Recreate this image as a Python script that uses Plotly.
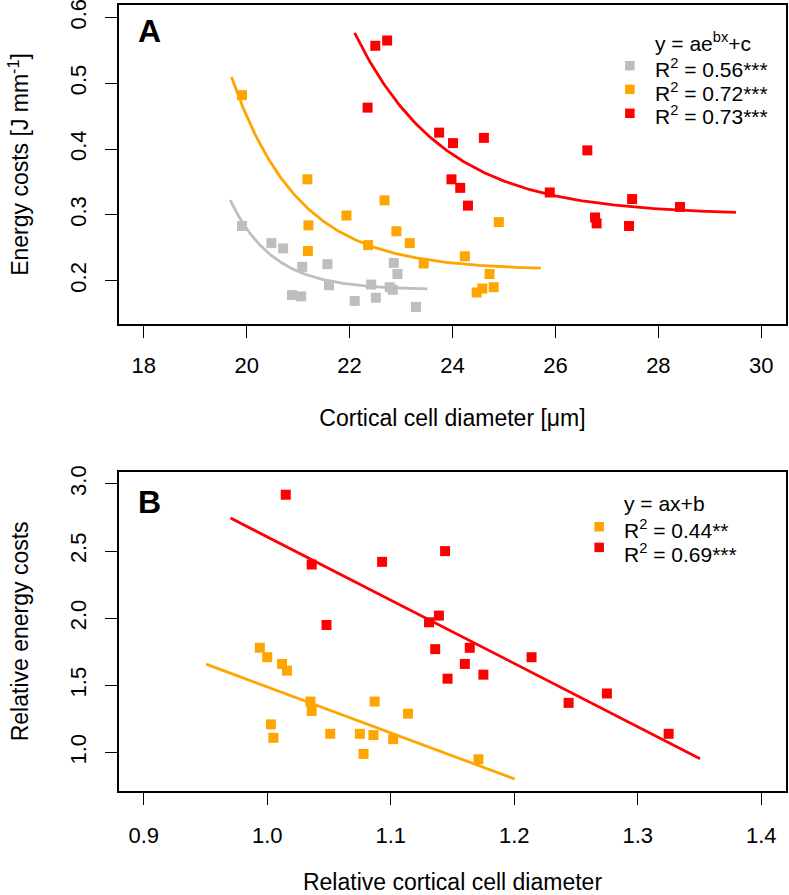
import numpy as np
import plotly.graph_objects as go
from plotly.subplots import make_subplots

# ---------------- Data: panel A ----------------
gray_x = [19.91, 20.48, 20.71, 21.08, 21.57, 20.88, 21.06, 21.60, 22.10, 22.42, 22.51, 22.78, 22.84, 22.86, 22.93, 23.29]
gray_y = [0.283, 0.257, 0.249, 0.221, 0.225, 0.178, 0.176, 0.193, 0.169, 0.194, 0.174, 0.190, 0.186, 0.227, 0.210, 0.160]

orange_x = [19.91, 21.18, 21.20, 21.19, 21.94, 22.36, 22.68, 22.91, 23.17, 23.44, 24.24, 24.90, 24.72, 24.47, 24.58, 24.80]
orange_y = [0.482, 0.354, 0.284, 0.245, 0.299, 0.254, 0.322, 0.275, 0.257, 0.226, 0.237, 0.289, 0.210, 0.182, 0.188, 0.190]

red_x = [22.50, 22.73, 22.35, 23.74, 24.01, 24.61, 23.98, 24.15, 24.30, 25.89, 26.62, 26.77, 26.80, 27.49, 27.43, 28.42]
red_y = [0.557, 0.565, 0.463, 0.425, 0.409, 0.417, 0.354, 0.341, 0.314, 0.334, 0.398, 0.296, 0.287, 0.324, 0.283, 0.312]

# exponential fits y = c + d*exp(b*(x - x_start)), drawn over [x_start, x_end]
fit_gray = dict(x_start=19.68, x_end=23.51, c=0.186, d=0.1364, b=-1.20)
fit_orange = dict(x_start=19.706, x_end=25.715, c=0.216, d=0.2937, b=-0.77)
fit_red = dict(x_start=22.098, x_end=29.507, c=0.300, d=0.2766, b=-0.58)

legend_A_title = "y = ae<sup>bx</sup>+c"
legend_A_labels = ["R<sup>2</sup> = 0.56***", "R<sup>2</sup> = 0.72***", "R<sup>2</sup> = 0.73***"]

# ---------------- Data: panel B ----------------
redB_x = [1.015, 1.036, 1.093, 1.048, 1.144, 1.131, 1.139, 1.136, 1.146, 1.164, 1.160, 1.175, 1.214, 1.244, 1.275, 1.325]
redB_y = [2.92, 2.40, 2.42, 1.95, 2.50, 1.97, 2.02, 1.77, 1.55, 1.78, 1.66, 1.58, 1.71, 1.37, 1.44, 1.14]

orangeB_x = [0.994, 1.000, 1.012, 1.016, 1.035, 1.036, 1.003, 1.005, 1.051, 1.075, 1.086, 1.078, 1.087, 1.102, 1.114, 1.171]
orangeB_y = [1.78, 1.71, 1.66, 1.61, 1.38, 1.31, 1.21, 1.11, 1.14, 1.14, 1.13, 0.99, 1.38, 1.10, 1.29, 0.95]

# linear fits y = a*x + b, drawn over [x_start, x_end]
lin_red = dict(x_start=0.9703, x_end=1.3504, a=-4.712, b=7.318)
lin_orange = dict(x_start=0.9506, x_end=1.2004, a=-3.423, b=4.912)

legend_B_title = "y = ax+b"
legend_B_labels = ["R<sup>2</sup> = 0.44**", "R<sup>2</sup> = 0.69***"]

# ticks
xA_ticks = [18, 20, 22, 24, 26, 28, 30]
yA_ticks = [0.2, 0.3, 0.4, 0.5, 0.6]
xB_ticks = [0.9, 1.0, 1.1, 1.2, 1.3, 1.4]
yB_ticks = [1.0, 1.5, 2.0, 2.5, 3.0]

# ---------------- Styles ----------------
GRAY = "#BEBEBE"
ORANGE = "#FFA500"
RED = "#FF0000"
FONT = "Liberation Sans, Arial, Helvetica, sans-serif"

fig = make_subplots(rows=2, cols=1)

def exp_curve(p):
    xs = np.linspace(p["x_start"], p["x_end"], 200)
    return xs, p["c"] + p["d"] * np.exp(p["b"] * (xs - p["x_start"]))

def lin_curve(p):
    xs = np.array([p["x_start"], p["x_end"]])
    return xs, p["a"] * xs + p["b"]

mk = dict(symbol="square", size=10, line=dict(width=0))

for xs, ys, col in [(gray_x, gray_y, GRAY), (orange_x, orange_y, ORANGE), (red_x, red_y, RED)]:
    fig.add_trace(go.Scatter(x=xs, y=ys, mode="markers", marker=dict(color=col, **mk),
                             showlegend=False), row=1, col=1)
for p, col in [(fit_gray, GRAY), (fit_orange, ORANGE), (fit_red, RED)]:
    cx, cy = exp_curve(p)
    fig.add_trace(go.Scatter(x=cx, y=cy, mode="lines", line=dict(color=col, width=2.8),
                             showlegend=False), row=1, col=1)

for xs, ys, col in [(orangeB_x, orangeB_y, ORANGE), (redB_x, redB_y, RED)]:
    fig.add_trace(go.Scatter(x=xs, y=ys, mode="markers", marker=dict(color=col, **mk),
                             showlegend=False), row=2, col=1)
for p, col in [(lin_orange, ORANGE), (lin_red, RED)]:
    cx, cy = lin_curve(p)
    fig.add_trace(go.Scatter(x=cx, y=cy, mode="lines", line=dict(color=col, width=2.8),
                             showlegend=False), row=2, col=1)

axis_common = dict(showline=True, mirror=True, linecolor="black", linewidth=1.6,
                   ticks="outside", ticklen=12, tickwidth=1.4, tickcolor="black",
                   showgrid=False, zeroline=False, automargin=False,
                   ticklabeloverflow="allow",
                   tickfont=dict(family=FONT, size=22, color="black"))
title_font = dict(family=FONT, size=23, color="black")

fig.update_xaxes(range=[17.52, 30.48], tickvals=xA_ticks, ticktext=[str(v) for v in xA_ticks],
                 title=dict(text="Cortical cell diameter [μm]", font=title_font, standoff=33),
                 ticklabelstandoff=9, domain=[0, 1], row=1, col=1, **axis_common)
fig.update_yaxes(range=[0.134, 0.619], tickvals=yA_ticks, ticktext=[f"{v:.1f}" for v in yA_ticks],
                 tickangle=-90,
                 title=dict(text="Energy costs [J mm<sup>-1</sup>]", font=title_font, standoff=31),
                 ticklabelstandoff=10, domain=[0.5941, 1.0], row=1, col=1, **axis_common)
fig.update_xaxes(range=[0.88, 1.42], tickvals=xB_ticks, ticktext=[f"{v:.1f}" for v in xB_ticks],
                 title=dict(text="Relative cortical cell diameter", font=title_font, standoff=27),
                 ticklabelstandoff=12, domain=[0, 1], row=2, col=1, **axis_common)
fig.update_yaxes(range=[0.714, 3.091], tickvals=yB_ticks, ticktext=[f"{v:.1f}" for v in yB_ticks],
                 tickangle=-90,
                 title=dict(text="Relative energy costs", font=title_font, standoff=31),
                 ticklabelstandoff=10, domain=[0.0, 0.4062], row=2, col=1, **axis_common)

annotations = []
shapes = []

def add_text(xref, yref, x, y, text, size=21, bold=False):
    annotations.append(dict(xref=xref, yref=yref, x=x, y=y, text=f"<b>{text}</b>" if bold else text,
                            showarrow=False, xanchor="left", yanchor="middle",
                            font=dict(family=FONT, size=size, color="black")))

def add_key(xref, yref, xc, yc, col, w=0.0143, h=0.0298):
    shapes.append(dict(type="rect", xref=xref, yref=yref, x0=xc - w / 2, x1=xc + w / 2,
                       y0=yc - h / 2, y1=yc + h / 2, fillcolor=col, line=dict(width=0)))

# panel labels
add_text("x domain", "y domain", 0.026, 0.920, "A", size=32, bold=True)
add_text("x2 domain", "y2 domain", 0.026, 0.906, "B", size=32, bold=True)

# legend A
add_text("x domain", "y domain", 0.800, 0.8825, legend_A_title)
for lab, yc in zip(legend_A_labels, [0.8025, 0.7288, 0.655]):
    add_text("x domain", "y domain", 0.800, yc, lab)
for col, yc in zip([GRAY, ORANGE, RED], [0.8097, 0.7357, 0.6605]):
    add_key("x domain", "y domain", 0.7659, yc, col)

# legend B
add_text("x2 domain", "y2 domain", 0.754, 0.901, legend_B_title)
for lab, yc in zip(legend_B_labels, [0.820, 0.747]):
    add_text("x2 domain", "y2 domain", 0.754, yc, lab)
for col, yc in zip([ORANGE, RED], [0.8276, 0.763]):
    add_key("x2 domain", "y2 domain", 0.7199, yc, col)

fig.update_layout(width=789, height=895, margin=dict(l=119, r=3, t=5, b=104, autoexpand=False),
                  paper_bgcolor="white", plot_bgcolor="white",
                  annotations=annotations, shapes=shapes,
                  font=dict(family=FONT, color="black"))

fig.write_html("out.html", config={"displayModeBar": False},
               post_script="document.body.style.margin='0px';")
